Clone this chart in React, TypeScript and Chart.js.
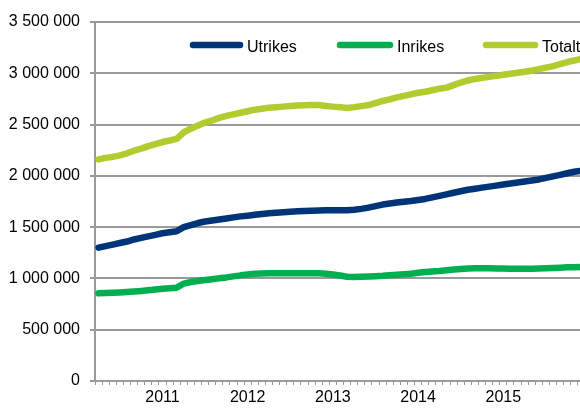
import React, { useEffect, useRef } from 'react';
import { Chart, registerables } from 'chart.js';

Chart.register(...registerables);

const months: string[] = [
  '2010-04', '2010-05', '2010-06', '2010-07', '2010-08', '2010-09', '2010-10', '2010-11', '2010-12',
  '2011-01', '2011-02', '2011-03', '2011-04', '2011-05', '2011-06', '2011-07', '2011-08', '2011-09', '2011-10', '2011-11', '2011-12',
  '2012-01', '2012-02', '2012-03', '2012-04', '2012-05', '2012-06', '2012-07', '2012-08', '2012-09', '2012-10', '2012-11', '2012-12',
  '2013-01', '2013-02', '2013-03', '2013-04', '2013-05', '2013-06', '2013-07', '2013-08', '2013-09', '2013-10', '2013-11', '2013-12',
  '2014-01', '2014-02', '2014-03', '2014-04', '2014-05', '2014-06', '2014-07', '2014-08', '2014-09', '2014-10', '2014-11', '2014-12',
  '2015-01', '2015-02', '2015-03', '2015-04', '2015-05', '2015-06', '2015-07', '2015-08', '2015-09', '2015-10', '2015-11', '2015-12',
];

const yearLabels: string[] = ['2011', '2012', '2013', '2014', '2015'];

const utrikes: number[] = [
  1300000, 1315000, 1330000, 1345000, 1360000, 1380000, 1395000, 1410000, 1425000,
  1440000, 1450000, 1460000, 1500000, 1520000, 1540000, 1555000, 1565000, 1575000, 1585000, 1595000, 1605000,
  1612000, 1620000, 1628000, 1635000, 1640000, 1645000, 1650000, 1655000, 1658000, 1660000, 1662000, 1665000,
  1665000, 1665000, 1665000, 1670000, 1678000, 1690000, 1705000, 1720000, 1730000, 1740000, 1748000, 1755000,
  1765000, 1775000, 1790000, 1805000, 1820000, 1835000, 1850000, 1865000, 1875000, 1885000, 1895000, 1905000,
  1915000, 1925000, 1935000, 1945000, 1955000, 1965000, 1980000, 1995000, 2010000, 2025000, 2040000, 2050000,
];

const inrikes: number[] = [
  855000, 857000, 860000, 863000, 867000, 872000, 878000, 885000, 892000,
  900000, 905000, 910000, 950000, 965000, 975000, 985000, 993000, 1002000, 1010000, 1020000, 1030000,
  1038000, 1045000, 1048000, 1050000, 1050000, 1050000, 1050000, 1050000, 1050000, 1050000, 1050000, 1046000,
  1038000, 1028000, 1016000, 1013000, 1016000, 1019000, 1022000, 1025000, 1030000, 1035000, 1040000, 1045000,
  1055000, 1062000, 1068000, 1072000, 1080000, 1088000, 1093000, 1097000, 1100000, 1100000, 1100000, 1098000,
  1097000, 1095000, 1095000, 1095000, 1095000, 1097000, 1100000, 1102000, 1105000, 1108000, 1110000, 1112000,
];

const totalt: number[] = [
  2160000, 2175000, 2185000, 2200000, 2220000, 2245000, 2265000, 2290000, 2310000,
  2330000, 2345000, 2360000, 2425000, 2460000, 2490000, 2520000, 2540000, 2565000, 2585000, 2600000, 2615000,
  2630000, 2645000, 2655000, 2665000, 2670000, 2675000, 2680000, 2685000, 2688000, 2690000, 2690000, 2682000,
  2675000, 2670000, 2662000, 2670000, 2680000, 2690000, 2710000, 2730000, 2745000, 2765000, 2780000, 2795000,
  2810000, 2820000, 2835000, 2850000, 2860000, 2885000, 2910000, 2930000, 2945000, 2955000, 2965000, 2975000,
  2985000, 2995000, 3005000, 3015000, 3025000, 3040000, 3055000, 3070000, 3090000, 3110000, 3125000, 3140000,
];

const FONT = '"Liberation Sans", Arial, sans-serif';
const GRID = '#9a9a9a';

const legendPlugin = {
  id: 'customLegend',
  afterDraw(chart: any) {
    const ctx = chart.ctx as CanvasRenderingContext2D;
    const slots = [
      { x0: 193, x1: 240, tx: 247 },
      { x0: 340, x1: 390, tx: 397 },
      { x0: 486, x1: 535, tx: 542 },
    ];
    ctx.save();
    chart.data.datasets.forEach((ds: any, i: number) => {
      const s = slots[i];
      ctx.beginPath();
      ctx.strokeStyle = ds.borderColor;
      ctx.lineWidth = 6.5;
      ctx.lineCap = 'round';
      ctx.moveTo(s.x0, 45);
      ctx.lineTo(s.x1, 45);
      ctx.stroke();
      ctx.fillStyle = '#000';
      ctx.font = `16px ${FONT}`;
      ctx.textBaseline = 'alphabetic';
      ctx.textAlign = 'left';
      ctx.fillText(ds.label, s.tx, 51.5);
    });
    ctx.restore();
  },
};

export default function App() {
  const ref = useRef<HTMLCanvasElement>(null);

  useEffect(() => {
    if (!ref.current) return;
    const chart = new Chart(ref.current, {
      type: 'line',
      data: {
        labels: months,
        datasets: [
          { label: 'Utrikes', data: utrikes, borderColor: '#003479', backgroundColor: '#003479' },
          { label: 'Inrikes', data: inrikes, borderColor: '#00b050', backgroundColor: '#00b050' },
          { label: 'Totalt', data: totalt, borderColor: '#b2cb2e', backgroundColor: '#b2cb2e' },
        ].map((d) => ({
          ...d,
          borderWidth: 6.5,
          pointRadius: 0,
          pointHoverRadius: 0,
          tension: 0,
          borderCapStyle: 'round' as const,
          borderJoinStyle: 'round' as const,
          fill: false,
        })),
      },
      options: {
        animation: false,
        responsive: true,
        maintainAspectRatio: false,
        layout: { padding: { top: 22, right: 5, bottom: 0, left: 0 } },
        plugins: {
          legend: { display: false },
          tooltip: { enabled: false },
        },
        scales: {
          x: {
            type: 'category',
            offset: true,
            grid: {
              display: true,
              offset: true,
              drawOnChartArea: false,
              drawTicks: true,
              tickLength: 4,
              color: GRID,
              lineWidth: 1,
            },
            border: { display: true, color: GRID, width: 2 },
            ticks: {
              autoSkip: false,
              maxRotation: 0,
              minRotation: 0,
              padding: 3,
              color: '#000',
              font: { size: 16, family: FONT },
              callback: (_v: any, idx: number) => {
                const m = months[idx];
                if (m && m.endsWith('-01')) {
                  const y = m.slice(0, 4);
                  return yearLabels.includes(y) ? y : '';
                }
                return '';
              },
            },
            afterFit: (scale: any) => {
              scale.height = 29;
            },
          },
          y: {
            min: 0,
            max: 3500000,
            grid: {
              color: GRID,
              lineWidth: 2,
              drawTicks: true,
              tickLength: 5,
            },
            border: { display: true, color: GRID, width: 2 },
            ticks: {
              stepSize: 500000,
              padding: 10,
              color: '#000',
              font: { size: 16, family: FONT },
              callback: (v: any) => String(v).replace(/\B(?=(\d{3})+(?!\d))/g, ' '),
            },
            afterFit: (scale: any) => {
              scale.width = 95;
            },
          },
        },
      },
      plugins: [legendPlugin],
    });
    return () => chart.destroy();
  }, []);

  return (
    <div
      style={{
        position: 'fixed',
        left: 0,
        top: 0,
        width: 580,
        height: 410,
        overflow: 'hidden',
        background: '#fff',
      }}
    >
      <div style={{ position: 'relative', width: 590, height: 410 }}>
        <canvas ref={ref} />
      </div>
    </div>
  );
}
